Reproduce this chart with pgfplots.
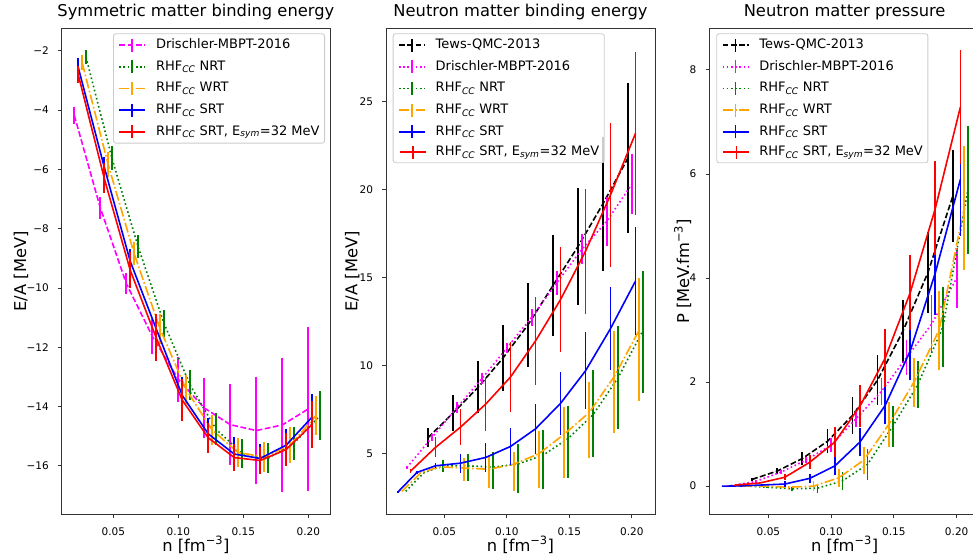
\documentclass[border=0pt]{standalone}
\usepackage{fontspec}
\setmainfont{DejaVu Sans}
\usepackage{pgfplots}
\pgfplotsset{compat=1.18}
\definecolor{mpgreen}{HTML}{008000}
\definecolor{mporange}{HTML}{FFA500}
\definecolor{mpblue}{HTML}{0000FF}
\definecolor{mpred}{HTML}{FF0000}
\definecolor{mpmag}{HTML}{FF00FF}
\definecolor{legframe}{HTML}{CCCCCC}
\definecolor{axcol}{HTML}{333333}
\newcommand\ticfont{\fontsize{10.5}{12}\selectfont}
\newcommand\labfont{\fontsize{16.3}{19}\selectfont}
\newcommand\legfont{\fontsize{13}{15}\selectfont}
\newcommand\legsample[1]{\hspace*{-36pt}\makebox[26pt][l]{\color{#1}\rlap{\rule[3pt]{26pt}{1.6pt}}\hspace*{12.2pt}\rule[-2.7pt]{1.6pt}{13pt}}\hspace*{10pt}}
\pgfplotsset{
  mybase/.style={
    scale only axis, height=486.2pt, anchor=south west,
    axis line style={axcol, line width=0.85pt},
    tick style={axcol, line width=0.85pt},
    tick align=outside, major tick length=3.7pt, tick pos=left,
    xtick={0.05,0.10,0.15,0.20},
    xticklabels={0.05,0.10,0.15,0.20},
    tick label style={font=\ticfont},
    xticklabel style={anchor=base, inner sep=0pt, yshift=-17.2pt},
    yticklabel style={anchor=east, inner sep=0pt, xshift=-9pt},
    title style={font=\labfont, at={(axis description cs:0.5,1)}, anchor=base, yshift=5.6pt, inner sep=0pt},
    xlabel style={font=\labfont, at={([yshift=-36.5pt]axis description cs:0.5,0)}, anchor=base, inner sep=0pt},
    ylabel style={font=\labfont, anchor=base, inner sep=0pt},
    xlabel={n [fm\textsuperscript{−3}]},
    legend cell align=left,
    legend style={font=\legfont, draw=legframe, line width=0.85pt, fill=white, fill opacity=0.8, text opacity=1,
      rounded corners=2.5pt, inner xsep=5pt, inner ysep=4pt, row sep=7.1pt,
      nodes={inner sep=0pt, text height=9.6pt, text depth=3pt},
      /tikz/every odd column/.append style={column sep=10pt}},
    legend image code/.code={\draw[##1, line width=1.6pt] (0pt,0pt) -- (26pt,0pt); \draw[##1, solid, line width=1.6pt] (13pt,-6.5pt) -- (13pt,6.5pt);},
  },
  overlay/.style={mybase, hide axis, title={}, xlabel={}, ylabel={}},
  geoA/.style={at={(61.7pt,39.5pt)}, width=268.3pt, xmin=0.0103, xmax=0.2167, ymin=-17.64, ymax=-1.245},
  geoB/.style={at={(386pt,39.5pt)}, width=269pt, xmin=0.0033, xmax=0.2186, ymin=1.53, ymax=29.17},
  geoC/.style={at={(709.3pt,39.5pt)}, width=270.7pt, xmin=0.0029, xmax=0.2186, ymin=-0.545, ymax=8.8},
  ebar/.style={error bars/.cd, y dir=both, y explicit, error mark=none, error bar style={solid, line width=1.7pt}},
  tews/.style={draw=black, line width=1.6pt, dash pattern=on 5.8pt off 2.5pt},
  drdash/.style={draw=mpmag, line width=1.6pt, dash pattern=on 5.8pt off 2.5pt},
  drdot/.style={draw=mpmag, line width=1.6pt, dash pattern=on 1.6pt off 2.6pt},
  nrt/.style={draw=mpgreen, line width=1.6pt, dash pattern=on 1.6pt off 2.6pt},
  wrt/.style={draw=mporange, line width=1.6pt, dash pattern=on 10pt off 2.5pt on 1.6pt off 2.5pt},
  srt/.style={draw=mpblue, line width=1.6pt, solid},
  esym/.style={draw=mpred, line width=1.6pt, solid},
}
\begin{document}
\begin{tikzpicture}
% ================= Panel 1 =================
\begin{axis}[mybase, geoA,
  ytick={-16,-14,-12,-10,-8,-6,-4,-2},
  yticklabels={−16,−14,−12,−10,−8,−6,−4,−2},
  title={Symmetric matter binding energy},
  ylabel={E/A [MeV]},
  ylabel style={at={([xshift=-35.7pt]axis description cs:0,0.5)}}]
\addplot[drdash, forget plot, ebar] table[x=x, y=y, y error=e] {
x y e
0.02 -4.18 0.29
0.04 -7.30 0.37
0.06 -9.85 0.35
0.08 -11.63 0.59
0.10 -13.08 0.76
0.12 -14.05 1.02
0.14 -14.61 1.37
0.16 -14.81 1.79
0.18 -14.62 2.25
0.20 -14.08 2.77
};
\addplot[nrt, forget plot, ebar] table[x=x, y=y, y error=e] {
x y e
0.029 -2.22 0.23
0.049 -5.63 0.40
0.069 -8.60 0.40
0.089 -11.19 0.45
0.109 -13.27 0.50
0.129 -14.76 0.53
0.149 -15.58 0.50
0.169 -15.74 0.50
0.189 -15.24 0.56
0.209 -14.30 0.83
};
\addplot[wrt, forget plot, ebar] table[x=x, y=y, y error=e] {
x y e
0.026 -2.40 0.25
0.046 -5.83 0.42
0.066 -8.84 0.39
0.086 -11.38 0.50
0.106 -13.42 0.48
0.126 -14.79 0.50
0.146 -15.55 0.48
0.166 -15.70 0.50
0.186 -15.30 0.62
0.206 -14.30 0.67
};
\end{axis}
\begin{axis}[overlay, geoA,
  legend style={at={(1,1)}, anchor=north east, xshift=-5pt, yshift=-5pt}]
\addlegendimage{drdash}\addlegendentry{Drischler-MBPT-2016}
\addlegendimage{nrt}\addlegendentry{RHF\textsubscript{\itshape CC} NRT}
\addlegendimage{wrt}\addlegendentry{RHF\textsubscript{\itshape CC} WRT}
\addlegendimage{srt}\addlegendentry{RHF\textsubscript{\itshape CC} SRT}
\addlegendimage{esym}\addlegendentry{RHF\textsubscript{\itshape CC} SRT, E\textsubscript{\itshape sym}=32 MeV}
\addplot[srt, forget plot, ebar] table[x=x, y=y, y error=e] {
x y e
0.023 -2.56 0.30
0.043 -5.92 0.35
0.063 -9.10 0.40
0.083 -11.38 0.45
0.103 -13.62 0.60
0.123 -14.92 0.55
0.143 -15.60 0.56
0.163 -15.75 0.50
0.183 -15.30 0.55
0.203 -14.35 0.78
};
\addplot[esym, forget plot, ebar] table[x=x, y=y, y error=e] {
x y e
0.023 -2.80 0.30
0.043 -6.30 0.50
0.063 -9.40 0.60
0.083 -11.68 0.80
0.103 -13.78 0.70
0.123 -15.05 0.50
0.143 -15.72 0.45
0.163 -15.82 0.45
0.183 -15.45 0.55
0.203 -14.60 0.80
};
\end{axis}
% ================= Panel 2 =================
\begin{axis}[mybase, geoB,
  ytick={5,10,15,20,25},
  yticklabels={5,10,15,20,25},
  title={Neutron matter binding energy},
  ylabel={E/A [MeV]},
  ylabel style={at={([xshift=-28.7pt]axis description cs:0,0.5)}}]
\addplot[tews, forget plot, ebar] table[x=x, y=y, y error=e] {
x y e
0.037 5.90 0.55
0.057 7.30 1.05
0.077 8.76 1.48
0.097 10.43 1.90
0.117 12.32 2.38
0.137 14.55 2.85
0.157 16.77 3.32
0.177 19.20 3.80
0.197 21.80 4.25
};
\addplot[drdot, forget plot, ebar] table[x=x, y=y, y error=e] {
x y e
0.02 4.20 0.10
0.04 5.90 0.20
0.06 7.60 0.30
0.08 9.25 0.30
0.10 11.00 0.30
0.12 12.75 0.48
0.14 14.70 0.70
0.16 16.60 0.85
0.18 18.20 1.40
0.20 20.30 1.70
};
\addplot[nrt, forget plot, ebar] table[x=x, y=y, y error plus=p, y error minus=m] {
x y p m
0.019 2.85 0 0
0.034 3.92 0.05 0.05
0.049 4.30 0.33 0.33
0.069 4.30 0.67 0.89
0.089 4.22 0.84 1.25
0.109 4.40 1.13 1.62
0.129 4.90 1.43 1.93
0.149 5.85 1.87 2.22
0.169 7.20 2.55 2.39
0.189 9.30 2.97 2.91
0.209 12.00 3.40 3.58
};
\end{axis}
\begin{axis}[overlay, geoB,
  legend style={at={(0,1)}, anchor=north west, xshift=6.7pt, yshift=-5pt}]
\addlegendimage{tews}\addlegendentry{Tews-QMC-2013}
\addlegendimage{drdot}\addlegendentry{Drischler-MBPT-2016}
\addlegendimage{nrt}\addlegendentry{RHF\textsubscript{\itshape CC} NRT}
\addlegendimage{wrt}\addlegendentry{RHF\textsubscript{\itshape CC} WRT}
\addlegendimage{srt}\addlegendentry{RHF\textsubscript{\itshape CC} SRT}
\addlegendimage{empty legend}\addlegendentry{\legsample{mpred}RHF\textsubscript{\itshape CC} SRT, E\textsubscript{\itshape sym}=32 MeV}
\addplot[wrt, forget plot, ebar] table[x=x, y=y, y error plus=p, y error minus=m] {
x y p m
0.016 2.84 0 0
0.031 3.90 0.05 0.05
0.046 4.24 0.10 0.10
0.066 4.17 0.60 0.76
0.086 4.10 0.77 1.04
0.106 4.40 0.66 1.52
0.126 5.00 1.29 1.94
0.146 6.10 1.56 2.47
0.166 7.33 1.71 2.59
0.186 9.37 2.62 3.21
0.206 12.02 2.97 4.02
};
\addplot[srt, forget plot, ebar] table[x=x, y=y, y error=e] {
x y e
0.013 2.82 0.02
0.028 3.92 0.10
0.043 4.30 0.15
0.063 4.45 0.54
0.083 4.77 0.85
0.103 5.40 1.06
0.123 6.40 1.43
0.143 7.85 1.80
0.163 9.70 2.20
0.183 12.10 2.38
0.203 14.80 3.05
};
\addplot[esym, forget plot, ebar] table[x=x, y=y, y error=e] {
x y e
0.023 4.00 0.10
0.043 5.35 0.57
0.063 6.50 1.00
0.083 7.80 1.50
0.103 9.35 2.00
0.123 11.40 2.50
0.143 13.75 3.00
0.163 16.50 3.55
0.183 19.70 4.10
0.203 23.20 4.65
};
\end{axis}
% ================= Panel 3 =================
\begin{axis}[mybase, geoC,
  ytick={0,2,4,6,8},
  yticklabels={0,2,4,6,8},
  title={Neutron matter pressure},
  ylabel={P [MeV.fm\textsuperscript{−3}]},
  ylabel style={at={([xshift=-20.3pt]axis description cs:0,0.5)}}]
\addplot[tews, forget plot, ebar] table[x=x, y=y, y error=e] {
x y e
0.037 0.13 0.03
0.057 0.29 0.05
0.077 0.53 0.13
0.097 0.86 0.23
0.117 1.36 0.36
0.137 2.04 0.48
0.157 2.97 0.61
0.177 4.10 0.78
0.197 5.58 0.88
};
\addplot[drdot, forget plot, ebar] table[x=x, y=y, y error=e] {
x y e
0.02 0.01 0.01
0.04 0.09 0.02
0.06 0.27 0.04
0.08 0.50 0.06
0.10 0.79 0.13
0.12 1.30 0.16
0.14 1.82 0.26
0.16 2.47 0.34
0.18 3.11 0.56
0.20 4.00 0.58
};
\addplot[nrt, forget plot, ebar] table[x=x, y=y, y error=e] {
x y e
0.019 0.00 0.00
0.034 0.00 0.00
0.049 -0.02 0.02
0.069 -0.05 0.04
0.089 -0.04 0.09
0.109 0.10 0.17
0.129 0.42 0.30
0.149 1.15 0.40
0.169 1.95 0.45
0.189 3.06 0.77
0.209 5.70 1.23
};
\end{axis}
\begin{axis}[overlay, geoC,
  legend style={at={(0,1)}, anchor=north west, xshift=7pt, yshift=-5pt}]
\addlegendimage{tews}\addlegendentry{Tews-QMC-2013}
\addlegendimage{drdot}\addlegendentry{Drischler-MBPT-2016}
\addlegendimage{nrt}\addlegendentry{RHF\textsubscript{\itshape CC} NRT}
\addlegendimage{wrt}\addlegendentry{RHF\textsubscript{\itshape CC} WRT}
\addlegendimage{srt}\addlegendentry{RHF\textsubscript{\itshape CC} SRT}
\addlegendimage{empty legend}\addlegendentry{\legsample{mpred}RHF\textsubscript{\itshape CC} SRT, E\textsubscript{\itshape sym}=32 MeV}
\addplot[wrt, forget plot, ebar] table[x=x, y=y, y error=e] {
x y e
0.016 0.00 0.00
0.031 0.00 0.00
0.046 0.00 0.01
0.066 -0.02 0.03
0.086 0.00 0.10
0.106 0.16 0.17
0.126 0.50 0.26
0.146 1.19 0.43
0.166 2.00 0.47
0.186 3.00 0.76
0.206 5.34 1.19
};
\addplot[srt, forget plot, ebar] table[x=x, y=y, y error=e] {
x y e
0.013 0.00 0.00
0.028 0.005 0.003
0.043 0.02 0.01
0.063 0.04 0.05
0.083 0.15 0.08
0.103 0.39 0.17
0.123 0.85 0.27
0.143 1.55 0.36
0.163 2.60 0.56
0.183 4.10 0.82
0.203 5.90 1.10
};
\addplot[esym, forget plot, ebar] table[x=x, y=y, y error=e] {
x y e
0.023 0.02 0.01
0.043 0.06 0.02
0.063 0.17 0.06
0.083 0.46 0.13
0.103 0.85 0.29
0.123 1.54 0.40
0.143 2.46 0.56
0.163 3.72 0.72
0.183 5.34 0.90
0.203 7.29 1.10
};
\end{axis}
\pgfresetboundingbox
\path[use as bounding box] (0pt,0pt) rectangle (973pt,554pt);
\end{tikzpicture}
\end{document}
